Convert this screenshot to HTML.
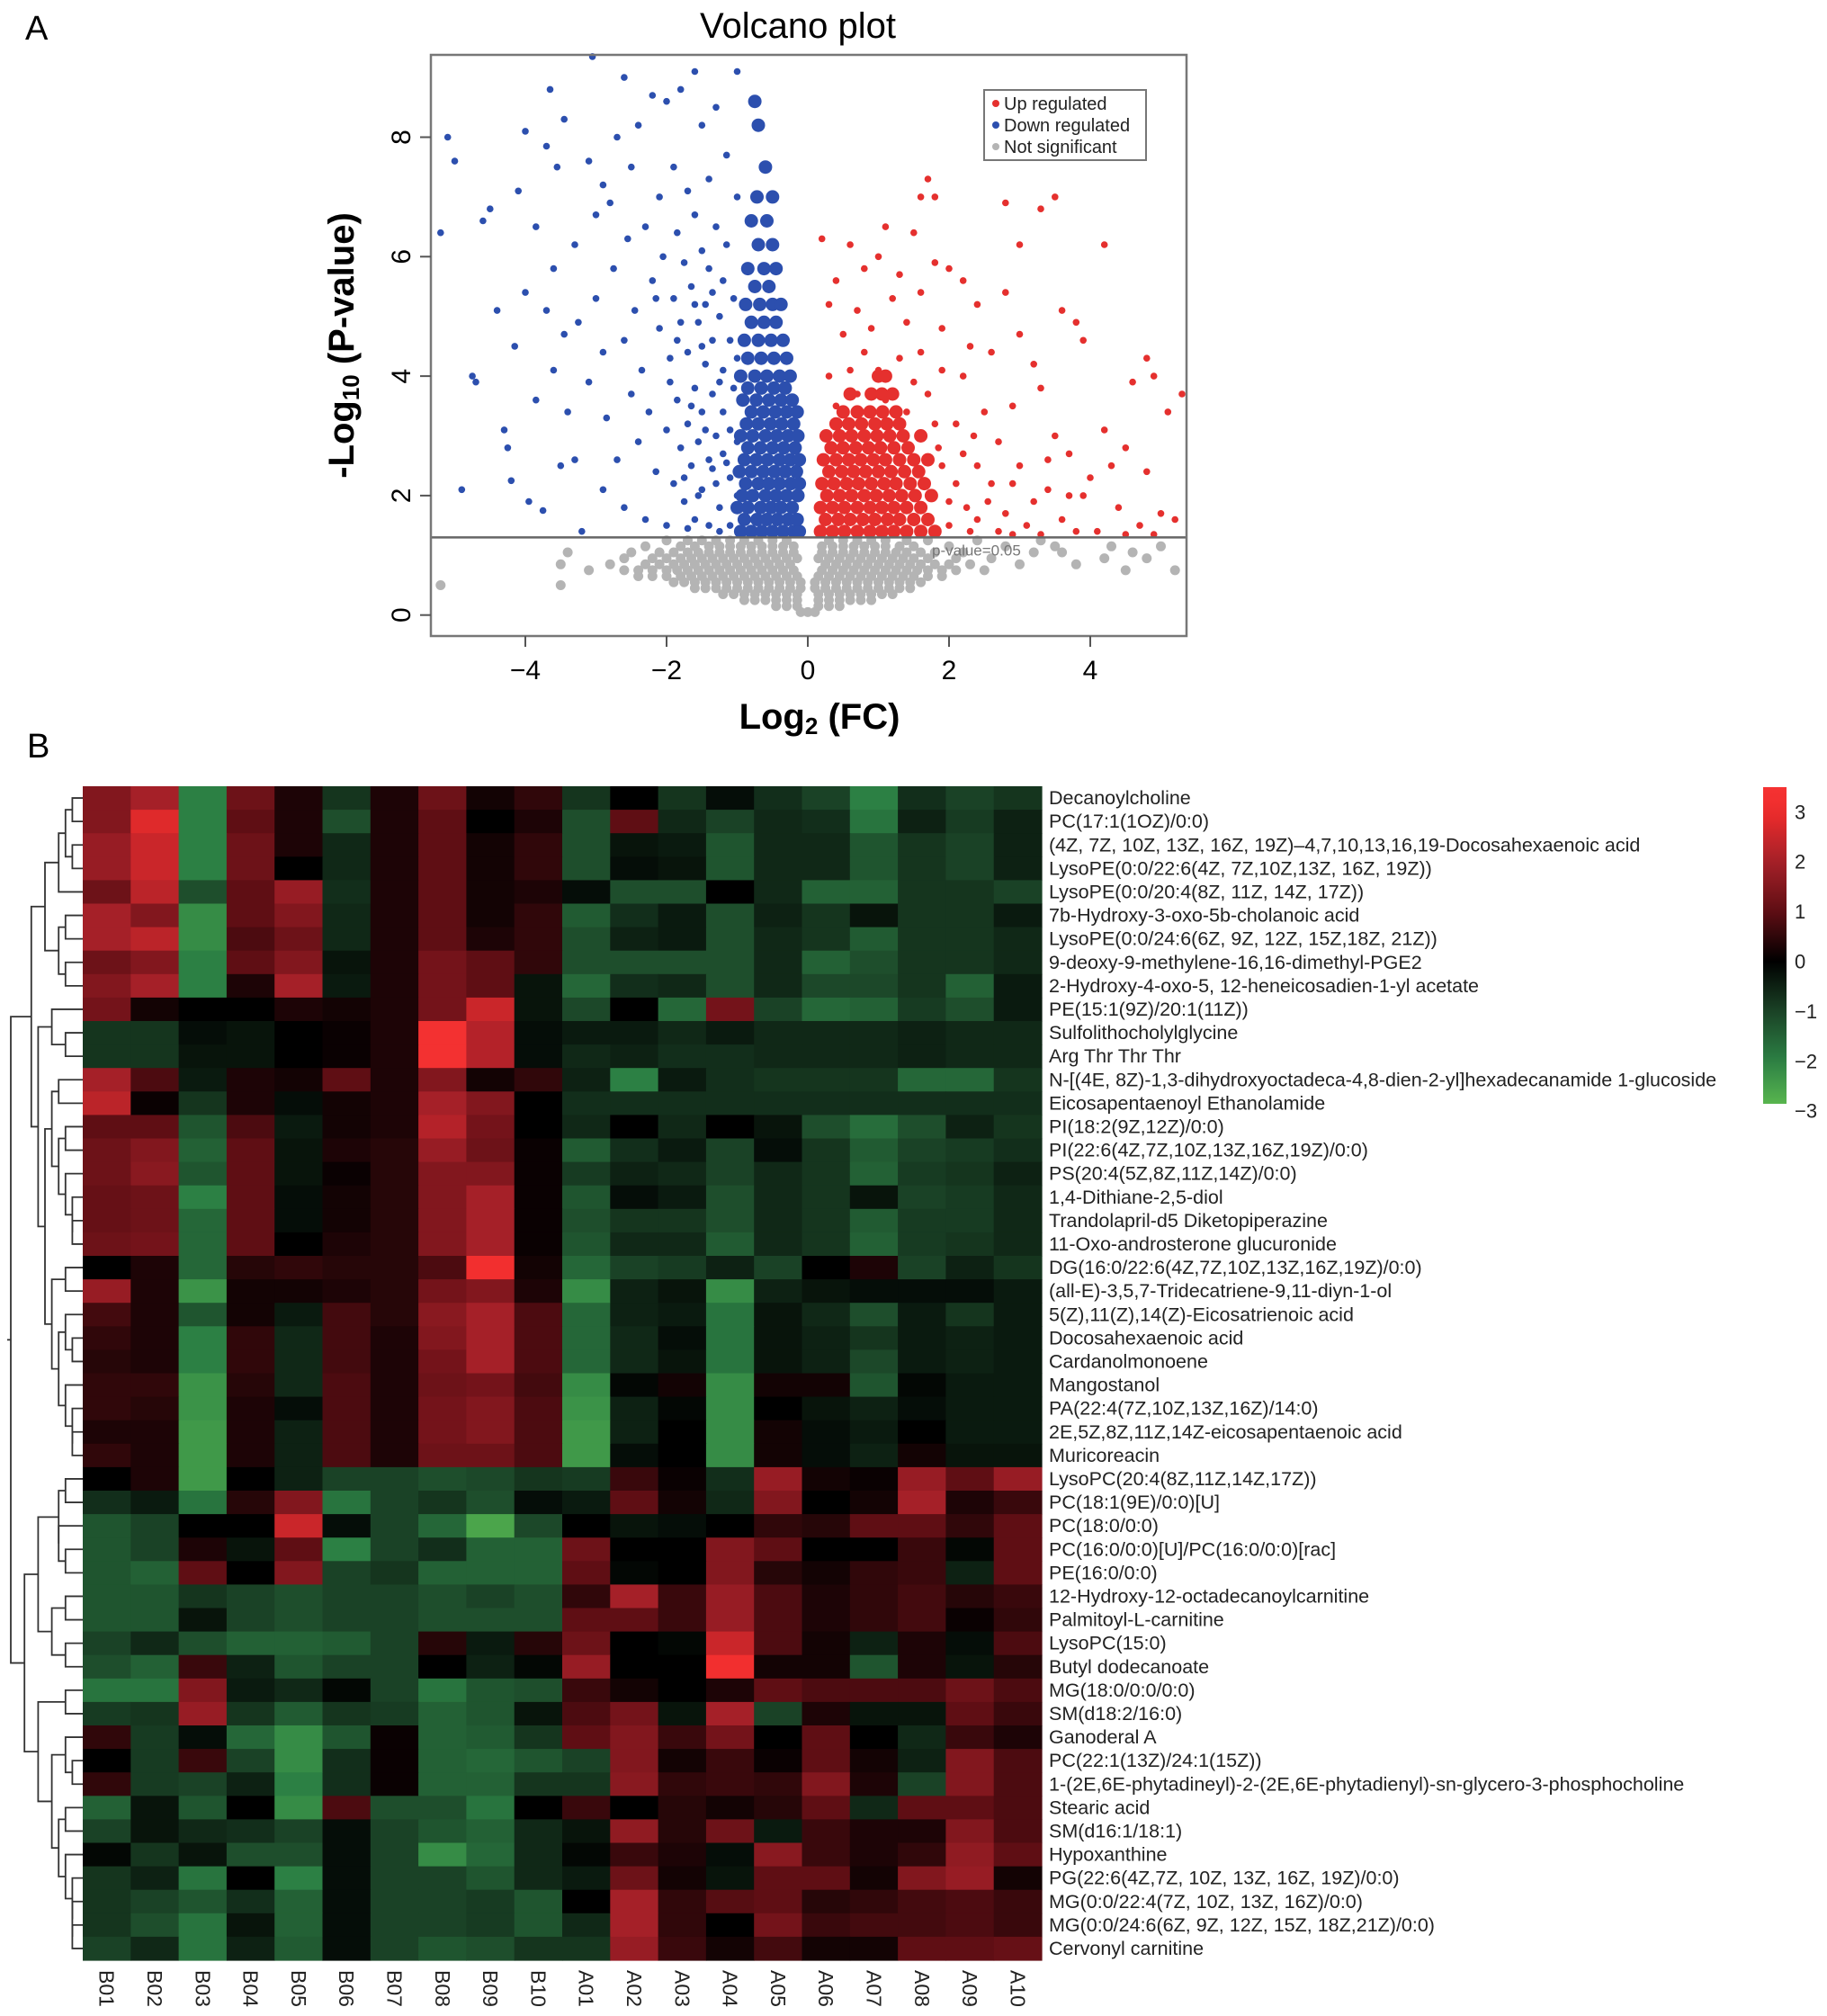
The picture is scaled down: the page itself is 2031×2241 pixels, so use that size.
<!DOCTYPE html>
<html><head><meta charset="utf-8"><style>
html,body{margin:0;padding:0;background:#fff}
svg{display:block;font-family:"Liberation Sans",sans-serif}
</style></head><body>
<svg id="fig" width="2031" height="2241" viewBox="0 0 2031 2241">
<text x="28" y="44" font-size="38">A</text>
<text x="30" y="842" font-size="38">B</text>
<g id="volcano"></g>
<g id="heat"></g>
</svg>
<script>
// ===== Volcano data =====
const xTicks=[-4,-2,0,2,4];
const yTicks=[0,2,4,6,8];
const pThreshold=1.3;
const downSparse=[[-5.2,6.4],[-5.1,8],[-5,7.6],[-4.9,2.1],[-4.75,4],[-4.7,3.9],[-4.6,6.6],[-4.5,6.8],[-4.4,5.1],[-4.3,3.1],[-4.25,2.8],[-4.2,2.25],[-4.15,4.5],[-4.1,7.1],[-4.0,5.4],[-4.0,8.1],[-3.95,1.9],[-3.85,3.6],[-3.85,6.5],[-3.75,1.75],[-3.7,5.1],[-3.7,7.85],[-3.65,8.8],[-3.6,4.1],[-3.6,5.8],[-3.5,2.5],[-3.55,7.5],[-3.45,4.7],[-3.4,3.4],[-3.45,8.3],[-3.3,2.6],[-3.3,6.2],[-3.25,4.9],[-3.2,1.4],[-3.1,7.6],[-3.1,3.9],[-3.05,9.35],[-3.0,6.7],[-3.0,5.3],[-2.9,2.1],[-2.9,4.4],[-2.9,7.2],[-2.85,3.3],[-2.8,6.9],[-2.75,5.8],[-2.7,8.0],[-2.7,2.6],[-2.6,9.0],[-2.6,4.6],[-2.6,1.8],[-2.55,6.3],[-2.5,3.7],[-2.5,7.5],[-2.45,5.1],[-2.4,2.9],[-2.4,8.2],[-2.35,4.1],[-2.3,6.5],[-2.3,1.6],[-2.25,3.4],[-2.2,5.6],[-2.2,8.7],[-2.15,2.4],[-2.1,4.8],[-2.1,7.0],[-2.05,6.0],[-2.0,3.1],[-2.0,1.5],[-2.0,8.6],[-1.95,4.3],[-1.9,5.3],[-1.9,2.2],[-1.9,7.5],[-1.85,3.6],[-1.85,6.4],[-1.8,8.8],[-1.8,2.8],[-1.8,4.9],[-1.75,5.9],[-1.75,1.9],[-1.7,3.2],[-1.7,7.1],[-1.7,4.4],[-1.65,2.5],[-1.65,5.5],[-1.6,9.1],[-1.6,6.7],[-1.6,3.8],[-1.6,1.6],[-1.55,4.9],[-1.55,2.9],[-1.5,6.1],[-1.5,8.2],[-1.5,3.4],[-1.5,2.1],[-1.45,5.2],[-1.45,4.2],[-1.4,7.3],[-1.4,2.6],[-1.4,5.8],[-1.4,1.5],[-1.35,3.7],[-1.35,4.6],[-1.3,6.5],[-1.3,3.0],[-1.3,2.2],[-1.3,8.5],[-1.25,5.0],[-1.25,1.8],[-1.2,4.1],[-1.2,5.6],[-1.2,3.4],[-1.2,2.7],[-1.15,7.7],[-1.15,6.2],[-1.1,4.6],[-1.1,1.5],[-1.1,3.1],[-1.1,2.3],[-1.05,5.3],[-1.05,3.8],[-1.0,9.1],[-1.0,7.0],[-1.0,2.0],[-1.0,4.3],[-1.0,2.9],[-1.75,2.3],[-1.55,2.0],[-1.35,2.45],[-1.45,3.1],[-1.65,3.5],[-1.25,3.9],[-1.5,4.5],[-1.85,4.6],[-1.35,5.4],[-1.6,5.2],[-1.95,3.9],[-2.15,5.3],[-1.15,2.55],[-1.25,1.4],[-1.7,1.45]];
const downCore=[[1.4,[-0.95,-0.8,-0.65,-0.5,-0.35,-0.2,-0.12]],[1.6,[-0.9,-0.72,-0.58,-0.43,-0.28,-0.15]],[1.8,[-1.0,-0.85,-0.67,-0.52,-0.38,-0.22]],[2.0,[-0.93,-0.78,-0.6,-0.45,-0.3,-0.14]],[2.2,[-0.88,-0.7,-0.55,-0.4,-0.24,-0.12]],[2.4,[-0.97,-0.8,-0.63,-0.47,-0.32,-0.16]],[2.6,[-0.9,-0.73,-0.57,-0.4,-0.25,-0.12]],[2.8,[-0.85,-0.67,-0.5,-0.34,-0.18]],[3.0,[-0.95,-0.78,-0.6,-0.44,-0.28,-0.14]],[3.2,[-0.87,-0.7,-0.53,-0.37,-0.2]],[3.4,[-0.8,-0.63,-0.46,-0.3,-0.15]],[3.6,[-0.92,-0.73,-0.55,-0.38,-0.22]],[3.8,[-0.85,-0.66,-0.48,-0.32]],[4.0,[-0.95,-0.75,-0.58,-0.4,-0.25]],[4.3,[-0.85,-0.66,-0.48,-0.3]],[4.6,[-0.9,-0.7,-0.52,-0.35]],[4.9,[-0.8,-0.62,-0.45]],[5.2,[-0.88,-0.68,-0.5,-0.38]],[5.5,[-0.75,-0.55]],[5.8,[-0.85,-0.62,-0.45]],[6.2,[-0.7,-0.5]],[6.6,[-0.8,-0.58]],[7.0,[-0.72,-0.5]],[7.5,[-0.6]],[8.2,[-0.7]],[8.6,[-0.75]]];
const upSparse=[[1.7,7.3],[1.6,7.0],[1.8,7.0],[3.5,7.0],[3.3,6.8],[1.1,6.5],[2.8,6.9],[4.2,6.2],[3.0,6.2],[0.2,6.3],[0.6,6.2],[1.0,6.0],[1.5,6.4],[0.4,5.6],[0.8,5.8],[1.3,5.7],[1.8,5.9],[2.0,5.8],[2.2,5.6],[2.8,5.4],[3.6,5.1],[0.3,5.2],[0.7,5.1],[1.2,5.3],[1.6,5.4],[2.4,5.2],[3.0,4.7],[3.8,4.9],[4.8,4.3],[4.9,4.0],[5.3,3.7],[5.1,3.4],[4.6,3.9],[0.5,4.7],[0.9,4.8],[1.4,4.9],[1.9,4.8],[2.3,4.5],[2.6,4.4],[3.2,4.2],[3.9,4.6],[4.2,3.1],[4.5,2.8],[4.8,2.4],[5.0,1.7],[5.2,1.6],[4.7,1.5],[4.4,1.8],[4.0,2.3],[3.7,2.7],[3.4,2.1],[3.6,1.6],[3.2,1.9],[3.0,2.5],[2.7,2.9],[2.9,3.5],[3.3,3.8],[2.5,3.4],[2.2,4.0],[3.5,3.0],[3.8,1.4],[4.1,1.4],[4.5,1.35],[4.9,1.35],[3.9,2.0],[3.1,1.5],[2.8,1.7],[2.6,2.2],[2.4,1.6],[2.2,2.7],[2.0,1.9],[2.1,3.2],[1.9,4.1],[1.7,3.7],[1.6,4.4],[1.5,3.9],[1.3,4.3],[1.0,4.1],[0.8,4.4],[0.6,4.1],[0.3,4.0],[0.4,3.5],[0.7,3.7],[1.1,3.6],[1.4,3.4],[1.8,3.2],[2.4,2.5],[2.3,1.4],[2.7,1.4],[3.3,1.35],[1.9,2.5],[2.1,2.2],[2.0,1.5],[1.85,2.8],[2.25,1.8],[2.55,1.9],[2.9,2.2],[3.4,2.6],[3.7,2.0],[4.3,2.5],[2.9,1.35],[2.35,3.0]];
const upCore=[[1.4,[0.18,0.35,0.52,0.7,0.88,1.05,1.22,1.4,1.6,1.8]],[1.6,[0.25,0.43,0.6,0.78,0.95,1.13,1.3,1.5,1.7]],[1.8,[0.18,0.35,0.52,0.7,0.88,1.05,1.22,1.4,1.6]],[2.0,[0.27,0.45,0.62,0.8,0.97,1.15,1.33,1.52,1.75]],[2.2,[0.2,0.37,0.55,0.72,0.9,1.08,1.25,1.45,1.65]],[2.4,[0.3,0.48,0.65,0.82,1.0,1.18,1.37,1.57]],[2.6,[0.22,0.4,0.58,0.75,0.93,1.1,1.3,1.5,1.7]],[2.8,[0.33,0.5,0.68,0.86,1.03,1.22,1.42]],[3.0,[0.26,0.45,0.62,0.8,0.98,1.16,1.35,1.6]],[3.2,[0.4,0.58,0.76,0.95,1.12,1.3]],[3.4,[0.5,0.7,0.88,1.06,1.25]],[3.7,[0.6,0.9,1.05,1.2]],[4.0,[1.0,1.1]]];
const nsRows=[[0.05,[-0.1,0,0.1]],[0.15,[-0.45,-0.3,-0.15,0.15,0.3,0.45]],[0.25,[-0.9,-0.75,-0.6,-0.45,-0.3,-0.15,0.15,0.3,0.45,0.6,0.75,0.9]],[0.35,[-1.2,-1.05,-0.9,-0.75,-0.6,-0.45,-0.3,-0.15,0.15,0.3,0.45,0.6,0.75,0.9,1.05,1.2]],[0.45,[-1.6,-1.45,-1.3,-1.15,-1.0,-0.85,-0.7,-0.55,-0.4,-0.25,-0.1,0.1,0.25,0.4,0.55,0.7,0.85,1.0,1.15,1.3,1.45]],[0.55,[-1.9,-1.75,-1.6,-1.45,-1.3,-1.15,-1.0,-0.85,-0.7,-0.55,-0.4,-0.25,-0.1,0.1,0.25,0.4,0.55,0.7,0.85,1.0,1.15,1.3,1.45,1.6]],[0.65,[-2.4,-2.2,-2.0,-1.8,-1.65,-1.5,-1.35,-1.2,-1.05,-0.9,-0.75,-0.6,-0.45,-0.3,-0.15,0.15,0.3,0.45,0.6,0.75,0.9,1.05,1.2,1.35,1.5,1.7,1.9]],[0.75,[-3.1,-2.6,-2.4,-2.2,-2.0,-1.85,-1.7,-1.55,-1.4,-1.25,-1.1,-0.95,-0.8,-0.65,-0.5,-0.35,-0.2,0.2,0.35,0.5,0.65,0.8,0.95,1.1,1.25,1.4,1.55,1.7,1.9,2.1,2.5,4.5,5.2]],[0.85,[-3.5,-2.8,-2.3,-2.1,-1.9,-1.75,-1.6,-1.45,-1.3,-1.15,-1.0,-0.85,-0.7,-0.55,-0.4,-0.25,0.25,0.4,0.55,0.7,0.85,1.0,1.15,1.3,1.45,1.6,1.8,2.0,2.3,3.0,3.8]],[0.95,[-2.6,-2.2,-2.0,-1.8,-1.65,-1.5,-1.35,-1.2,-1.05,-0.9,-0.75,-0.6,-0.45,-0.3,-0.15,0.15,0.3,0.45,0.6,0.75,0.9,1.05,1.2,1.35,1.5,1.7,2.1,2.6,4.2,4.8]],[1.05,[-3.4,-2.5,-2.1,-1.9,-1.7,-1.55,-1.4,-1.25,-1.1,-0.95,-0.8,-0.65,-0.5,-0.35,-0.2,0.2,0.35,0.5,0.65,0.8,0.95,1.1,1.25,1.4,1.6,1.8,2.2,3.2,3.6,4.6]],[1.15,[-2.3,-1.8,-1.6,-1.4,-1.25,-1.1,-0.95,-0.8,-0.65,-0.5,-0.35,-0.2,0.2,0.35,0.5,0.65,0.8,0.95,1.1,1.3,1.5,2.0,2.8,3.5,4.3,5.0]],[1.25,[-2.0,-1.7,-1.5,-1.3,-1.1,-0.9,-0.7,-0.5,-0.3,0.3,0.5,0.7,0.9,1.1,1.4,1.7,2.4,3.3]],[0.5,[-5.2,-3.5]]];

// ===== Heatmap data =====
const samples=["B01","B02","B03","B04","B05","B06","B07","B08","B09","B10","A01","A02","A03","A04","A05","A06","A07","A08","A09","A10"];
const metabolites=["Decanoylcholine","PC(17:1(1OZ)/0:0)","(4Z, 7Z, 10Z, 13Z, 16Z, 19Z)–4,7,10,13,16,19-Docosahexaenoic acid","LysoPE(0:0/22:6(4Z, 7Z,10Z,13Z, 16Z, 19Z))","LysoPE(0:0/20:4(8Z, 11Z, 14Z, 17Z))","7b-Hydroxy-3-oxo-5b-cholanoic acid","LysoPE(0:0/24:6(6Z, 9Z, 12Z, 15Z,18Z, 21Z))","9-deoxy-9-methylene-16,16-dimethyl-PGE2","2-Hydroxy-4-oxo-5, 12-heneicosadien-1-yl acetate","PE(15:1(9Z)/20:1(11Z))","Sulfolithocholylglycine","Arg Thr Thr Thr","N-[(4E, 8Z)-1,3-dihydroxyoctadeca-4,8-dien-2-yl]hexadecanamide 1-glucoside","Eicosapentaenoyl Ethanolamide","PI(18:2(9Z,12Z)/0:0)","PI(22:6(4Z,7Z,10Z,13Z,16Z,19Z)/0:0)","PS(20:4(5Z,8Z,11Z,14Z)/0:0)","1,4-Dithiane-2,5-diol","Trandolapril-d5 Diketopiperazine","11-Oxo-androsterone glucuronide","DG(16:0/22:6(4Z,7Z,10Z,13Z,16Z,19Z)/0:0)","(all-E)-3,5,7-Tridecatriene-9,11-diyn-1-ol","5(Z),11(Z),14(Z)-Eicosatrienoic acid","Docosahexaenoic acid","Cardanolmonoene","Mangostanol","PA(22:4(7Z,10Z,13Z,16Z)/14:0)","2E,5Z,8Z,11Z,14Z-eicosapentaenoic acid","Muricoreacin","LysoPC(20:4(8Z,11Z,14Z,17Z))","PC(18:1(9E)/0:0)[U]","PC(18:0/0:0)","PC(16:0/0:0)[U]/PC(16:0/0:0)[rac]","PE(16:0/0:0)","12-Hydroxy-12-octadecanoylcarnitine","Palmitoyl-L-carnitine","LysoPC(15:0)","Butyl dodecanoate","MG(18:0/0:0/0:0)","SM(d18:2/16:0)","Ganoderal A","PC(22:1(13Z)/24:1(15Z))","1-(2E,6E-phytadineyl)-2-(2E,6E-phytadienyl)-sn-glycero-3-phosphocholine","Stearic acid","SM(d16:1/18:1)","Hypoxanthine","PG(22:6(4Z,7Z, 10Z, 13Z, 16Z, 19Z)/0:0)","MG(0:0/22:4(7Z, 10Z, 13Z, 16Z)/0:0)","MG(0:0/24:6(6Z, 9Z, 12Z, 15Z, 18Z,21Z)/0:0)","Cervonyl carnitine"];
const zValues=[
[1.5,2,-2,1.2,0.3,-0.8,0.3,1.2,0.2,0.5,-0.8,0,-0.8,-0.2,-0.7,-1,-2,-0.7,-1,-0.8],
[1.5,2.8,-2,1,0.3,-1.2,0.3,1,0,0.3,-1.2,1,-0.6,-1,-0.6,-0.7,-1.8,-0.5,-0.9,-0.5],
[1.8,2.5,-2,1.2,0.3,-0.6,0.3,1,0.2,0.5,-1.2,-0.3,-0.4,-1.3,-0.6,-0.6,-1.3,-0.8,-1,-0.5],
[1.8,2.5,-2,1.2,0,-0.6,0.3,1,0.2,0.5,-1.2,-0.2,-0.3,-1.3,-0.6,-0.6,-1.3,-0.8,-1,-0.5],
[1.2,2.3,-1.2,1,1.8,-0.7,0.3,1,0.2,0.3,-0.2,-1.2,-1.2,0,-0.6,-1.5,-1.5,-0.8,-0.8,-1],
[2,1.5,-2.2,1,1.5,-0.6,0.3,1,0.2,0.5,-1.4,-0.7,-0.4,-1.2,-0.5,-0.8,-0.3,-0.8,-0.8,-0.4],
[2,2.3,-2.2,0.8,1.2,-0.6,0.3,1,0.3,0.5,-1.2,-0.5,-0.4,-1.2,-0.6,-0.8,-1.4,-0.8,-0.8,-0.6],
[1.2,1.5,-2,1,1.5,-0.3,0.3,1.3,1,0.5,-1.2,-1.2,-1.2,-1.2,-0.6,-1.5,-1.2,-0.8,-0.8,-0.6],
[1.5,2,-2,0.3,2,-0.4,0.3,1.3,1,-0.3,-1.6,-0.7,-0.6,-1.2,-0.6,-1.1,-1.1,-0.8,-1.5,-0.4],
[1.3,0.2,0,0,0.3,0.2,0.3,1.3,2.5,-0.3,-1.1,0,-1.6,1.3,-1,-1.6,-1.5,-0.9,-1.2,-0.4],
[-0.8,-0.8,-0.2,-0.3,0,0.1,0.3,3.3,2.2,-0.2,-0.4,-0.4,-0.6,-0.4,-0.6,-0.6,-0.6,-0.5,-0.6,-0.6],
[-0.8,-0.8,-0.3,-0.3,0,0.1,0.3,3.3,2.2,-0.2,-0.6,-0.5,-0.7,-0.7,-0.6,-0.6,-0.6,-0.5,-0.6,-0.6],
[2,0.8,-0.4,0.3,0.2,1,0.3,1.5,0.2,0.5,-0.5,-2,-0.4,-0.7,-0.8,-0.8,-0.8,-1.6,-1.6,-0.8],
[2.3,0.1,-0.8,0.3,-0.2,0.2,0.3,2,1.5,0,-0.7,-0.7,-0.7,-0.7,-0.7,-0.7,-0.7,-0.7,-0.7,-0.7],
[1,1,-1.3,0.8,-0.4,0.2,0.3,2.2,1.3,0,-0.6,0,-0.6,0,-0.3,-1.2,-1.7,-1.2,-0.5,-0.8],
[1.2,1.5,-1.5,1,-0.3,0.3,0.4,1.8,1.2,0.1,-1.4,-0.7,-0.4,-1,-0.2,-0.8,-1.4,-1,-0.9,-0.7],
[1.2,1.6,-1.3,1,-0.3,0.1,0.4,1.5,1.5,0.1,-0.9,-0.5,-0.6,-1,-0.6,-0.8,-1.5,-0.9,-0.8,-0.5],
[1.1,1.2,-2,1,-0.2,0.2,0.4,1.5,2,0.1,-1.3,-0.2,-0.4,-1.2,-0.6,-0.8,-0.3,-1,-0.9,-0.6],
[1.1,1.2,-1.6,1,-0.2,0.2,0.4,1.5,2,0.1,-1.2,-0.8,-0.8,-1.2,-0.6,-0.8,-1.4,-0.9,-0.9,-0.6],
[1.2,1.3,-1.6,1,0,0.3,0.4,1.5,2,0.1,-1.3,-0.6,-0.6,-1.4,-0.6,-0.8,-1.5,-0.9,-0.8,-0.6],
[0,0.3,-1.6,0.4,0.5,0.4,0.4,0.8,3.2,0.2,-1.6,-1,-0.9,-0.5,-1,0,0.3,-1,-0.5,-0.8],
[1.8,0.3,-2.3,0.2,0.2,0.3,0.4,1.3,1.5,0.3,-2.2,-0.5,-0.3,-2.2,-0.5,-0.3,-0.2,-0.2,-0.2,-0.4],
[0.7,0.3,-1.3,0.2,-0.4,0.7,0.4,1.6,2,0.8,-1.6,-0.5,-0.4,-1.8,-0.3,-0.6,-1.2,-0.4,-0.8,-0.4],
[0.5,0.3,-2,0.5,-0.6,0.7,0.3,1.5,2,0.8,-1.6,-0.6,-0.2,-1.8,-0.3,-0.5,-0.8,-0.4,-0.5,-0.4],
[0.4,0.3,-2,0.5,-0.6,0.7,0.3,1.3,2,0.8,-1.6,-0.6,-0.3,-1.8,-0.3,-0.5,-1.1,-0.4,-0.5,-0.4],
[0.5,0.5,-2.3,0.4,-0.6,0.8,0.3,1.2,1.3,0.7,-2.2,-0.1,0.2,-2.2,0.2,0.2,-1.3,-0.1,-0.4,-0.4],
[0.5,0.4,-2.3,0.3,-0.2,0.8,0.3,1.3,1.5,0.8,-2.3,-0.5,-0.1,-2.2,0,-0.3,-0.5,-0.2,-0.4,-0.4],
[0.3,0.3,-2.4,0.3,-0.5,0.8,0.3,1.3,1.5,0.8,-2.4,-0.5,0,-2.2,0.2,-0.2,-0.4,0,-0.4,-0.4],
[0.5,0.3,-2.4,0.3,-0.5,0.8,0.3,1.2,1.2,0.8,-2.4,-0.2,0,-2.2,0.2,-0.2,-0.5,0.2,-0.3,-0.3],
[0,0.3,-2.4,0,-0.5,-1,-1,-1.2,-1.1,-0.8,-0.9,0.6,0.1,-0.7,1.8,0.2,0.1,1.8,1,1.8],
[-0.7,-0.4,-1.8,0.4,1.5,-1.8,-1,-0.8,-1.2,-0.2,-0.4,1,0.2,-0.6,1.5,0,0.2,2,0.3,0.6],
[-1.3,-1,0,0,2.5,-0.2,-1,-1.6,-2.6,-1.1,0,-0.3,-0.2,0,0.5,0.4,1,1,0.5,1],
[-1.3,-1,0.3,-0.3,1,-2,-1,-0.7,-1.5,-1.5,1.2,0,0,1.5,1,0,0,0.6,-0.1,1],
[-1.3,-1.5,1,0,1.5,-1,-0.8,-1.5,-1.5,-1.5,1,-0.1,0,1.5,0.4,0.2,0.5,0.6,-0.5,1],
[-1.3,-1.3,-0.8,-1,-1.2,-1,-1,-1.2,-1,-1.2,0.5,2,0.6,1.8,0.8,0.3,0.5,0.7,0.4,0.6],
[-1.3,-1.3,-0.3,-1,-1.2,-1,-1,-1.2,-1.2,-1.2,1,1,0.6,1.8,0.8,0.3,0.5,0.7,0.1,0.5],
[-1,-0.6,-1.2,-1.5,-1.5,-1.4,-1,0.4,-0.4,0.4,1.2,0,-0.1,2.5,0.8,0.2,-0.5,0.3,-0.2,0.8],
[-1.2,-1.5,0.6,-0.5,-1.3,-1,-1,0,-0.5,-0.1,1.8,0,0,3.2,0.2,0.2,-1.3,0.3,-0.3,0.4],
[-1.8,-1.8,1.5,-0.4,-0.6,-0.1,-1,-1.8,-1.3,-1.2,0.6,0.2,0,0.3,1,0.8,0.8,0.8,1.2,0.8],
[-0.9,-0.8,1.8,-0.8,-1.4,-0.8,-0.9,-1.5,-1.3,-0.3,0.8,1.3,-0.3,2,-1,0.3,-0.3,-0.3,1,0.6],
[0.5,-0.9,-0.2,-1.6,-2.2,-1.3,0.1,-1.5,-1.4,-0.8,1,1.5,0.6,1.3,0,1,0,-0.6,0.6,0.3],
[0,-0.9,0.6,-1,-2.2,-0.7,0.1,-1.5,-1.6,-1.3,-1,1.5,0.2,0.6,0.1,1,0.2,-0.5,1.5,0.8],
[0.5,-0.9,-1,-0.5,-2,-0.7,0.1,-1.5,-1.5,-0.8,-0.8,1.6,0.5,0.6,0.5,1.5,0.3,-1,1.5,0.8],
[-1.5,-0.3,-1.3,0,-2.2,0.8,-1.2,-1.2,-1.8,0,0.6,0,0.4,0.2,0.4,1,-0.6,1,1,0.8],
[-1,-0.3,-0.6,-0.7,-1,-0.2,-1,-1.3,-1.5,-0.6,-0.3,1.7,0.4,1.2,-0.4,0.6,0.3,0.3,1.5,0.8],
[-0.1,-0.8,-0.3,-1.2,-1.2,-0.2,-1,-2.2,-1.6,-0.6,-0.1,0.6,0.3,-0.2,1.6,0.6,0.3,0.5,1.7,1],
[-0.8,-0.5,-1.8,0,-2,-0.2,-1,-1,-1.3,-0.6,-0.4,1.2,0.2,-0.3,1,1,0.2,1.5,1.8,0.2],
[-0.8,-1,-1.3,-0.7,-1.5,-0.2,-1,-1,-0.9,-1.3,0,2,0.5,0.9,1,0.4,0.5,0.7,0.8,0.6],
[-0.8,-1.2,-1.8,-0.3,-1.5,-0.2,-1,-1,-0.9,-1.3,-0.6,2,0.5,0,1.3,0.6,0.7,0.7,0.8,0.6],
[-1,-0.6,-1.8,-0.5,-1.4,-0.2,-1,-1.3,-1.2,-0.8,-0.8,1.8,0.6,0.2,0.7,0.2,0.2,1,1,1.1]];
const legendTicks=[3,2,1,0,-1,-2,-3];
const rowTree=[10,[7,[5,[3,[2,[1,0,1],[1,2,3]],4],[3,[2,5,6],[2,7,8]]],[6,[4,9,[2,10,11]],[5,[4,[3,12,13],[3,[2,14,15],[2,16,[1,17,[1,18,19]]]]],[4,[2,20,21],[3,[2,22,[1,23,24]],[2,25,[1,26,[1,27,28]]]]]]]],[8,[6,[3,[2,29,30],[3,31,[2,32,33]]],[4,[2,34,35],[2,36,37]]],[6,[2,38,39],[4,[2,40,[1,41,42]],[3,[2,43,44],[2,45,[1,46,[1,47,[1,48,49]]]]]]]]];

const NS="http://www.w3.org/2000/svg";
function mk(tag,attrs,parent,txt){const e=document.createElementNS(NS,tag);for(const k in attrs)e.setAttribute(k,attrs[k]);if(txt!==undefined)e.textContent=txt;parent.appendChild(e);return e;}

// ===== Volcano =====
const V=document.getElementById('volcano');
const box={l:479,r:1319,t:61,b:707};
const xS=v=>898+v*78.5, yS=v=>683.7-v*66.4;
let t=mk('text',{x:887,y:42,'font-size':40,'text-anchor':'middle'},V,'Volcano plot');


const pts=mk('g',{},V);


function dot(x,y,r,c,name){const d=mk('circle',{cx:xS(x).toFixed(1),cy:yS(y).toFixed(1),r:r,fill:c},pts);

}
nsRows.forEach(([y,xs])=>xs.forEach(x=>dot(x,y,5.5,'#b4b4b4','not-significant-point')));
downCore.forEach(([y,xs])=>xs.forEach(x=>dot(x,y,7.5,'#2c4fae','down-regulated-point')));
downSparse.forEach(([x,y])=>dot(x,y,3.8,'#2c4fae','down-regulated-point'));
upCore.forEach(([y,xs])=>xs.forEach(x=>dot(x,y,7.5,'#e5302e','up-regulated-point')));
upSparse.forEach(([x,y])=>dot(x,y,3.8,'#e5302e','up-regulated-point'));
let th=mk('line',{x1:box.l,x2:box.r,y1:yS(pThreshold),y2:yS(pThreshold),stroke:'#666',"stroke-width":2.5},V);


t=mk('text',{x:1036,y:yS(pThreshold)+20,'font-size':17,fill:'#777'},V,'p-value=0.05');


let fr=mk('rect',{x:box.l,y:box.t,width:box.r-box.l,height:box.b-box.t,fill:'none',stroke:'#777','stroke-width':2.5},V);


xTicks.forEach(v=>{mk('line',{x1:xS(v),x2:xS(v),y1:box.b,y2:box.b+12,stroke:'#555','stroke-width':2},V);
const tx=mk('text',{x:xS(v),y:box.b+48,'font-size':30,'text-anchor':'middle'},V,v<0?'\u2212'+(-v):String(v));

});
yTicks.forEach(v=>{mk('line',{x1:box.l-12,x2:box.l,y1:yS(v),y2:yS(v),stroke:'#555','stroke-width':2},V);
const tx=mk('text',{x:456,y:yS(v),'font-size':30,'text-anchor':'middle',transform:`rotate(-90 456 ${yS(v)})`},V,String(v));

});
t=mk('text',{x:911,y:810,'font-size':40,'font-weight':'bold','text-anchor':'middle'},V);
t.innerHTML='Log<tspan font-size="26" dy="6">2</tspan><tspan dy="-6"> (FC)</tspan>';


t=mk('text',{x:393,y:384,'font-size':40,'font-weight':'bold','text-anchor':'middle',transform:'rotate(-90 393 384)'},V);
t.innerHTML='-Log<tspan font-size="26" dy="6">10</tspan><tspan dy="-6"> (P-value)</tspan>';


const lg=mk('g',{},V);


mk('rect',{x:1094,y:100,width:180,height:78,fill:'#fff',stroke:'#777','stroke-width':2},lg);
[['Up regulated','#e5302e'],['Down regulated','#2c4fae'],['Not significant','#b4b4b4']].forEach((e,i)=>{
const g=mk('g',{},lg);


mk('circle',{cx:1107,cy:115+i*24,r:4,fill:e[1]},g);
mk('text',{x:1116,y:122+i*24,'font-size':20,fill:'#222'},g,e[0]);});

// ===== Heatmap =====
const H=document.getElementById('heat');
const hm={l:92,t:874,cw:53.3,ch:26.1};
const cx=j=>hm.l+j*hm.cw, cy=i=>hm.t+i*hm.ch;
function color(v){v=Math.max(-3.4,Math.min(3.4,v));
const pos=[[0,[0,0,0]],[1,[95,14,20]],[2,[165,32,40]],[3,[238,44,44]],[3.4,[245,50,50]]];
const neg=[[0,[0,0,0]],[1,[26,66,38]],[2,[44,128,68]],[3,[95,190,80]],[3.4,[110,200,85]]];
const st=v>=0?pos:neg,a=Math.abs(v);
for(let k=1;k<st.length;k++){if(a<=st[k][0]){const p0=st[k-1][0],c0=st[k-1][1],p1=st[k][0],c1=st[k][1];const f=(a-p0)/(p1-p0);return 'rgb('+c0.map((c,i)=>Math.round(c+(c1[i]-c)*f)).join(',')+')';}}
return 'rgb(245,50,50)';}
const cells=mk('g',{},H);


zValues.forEach((row,i)=>row.forEach((v,j)=>{const r=mk('rect',{x:cx(j).toFixed(2),y:cy(i).toFixed(2),width:hm.cw+0.6,height:hm.ch+0.6,fill:color(v)},cells);

}));
metabolites.forEach((m,i)=>{const tx=mk('text',{x:1166,y:cy(i)+hm.ch/2+7,'font-size':21.5,fill:'#222'},H,m);

});
samples.forEach((s,j)=>{const x=cx(j)+hm.cw/2-8,y=2190;const tx=mk('text',{x:x,y:y,'font-size':23,fill:'#222',transform:`rotate(90 ${x} ${y})`},H,s);

});
// dendrogram
const dg=mk('g',{stroke:'#333','stroke-width':1.8,fill:'none'},H);


const hx=h=>hm.l-4-h*7.6;
function draw(n){if(typeof n==='number')return{y:cy(n)+hm.ch/2,x:hm.l};
const a=draw(n[1]),b=draw(n[2]),x=hx(n[0]);
mk('path',{d:`M${a.x},${a.y}H${x}V${b.y}H${b.x}`},dg);return{y:(a.y+b.y)/2,x:x};}
const treeRoot=draw(rowTree);mk('path',{d:`M${treeRoot.x},${treeRoot.y}H${treeRoot.x-4}`},dg);
// colorbar
const cb=mk('g',{},H);


const cbY=v=>1068.5-v*55.4;
const defs=mk('defs',{},H);const gr=mk('linearGradient',{id:'cbg',x1:0,y1:0,x2:0,y2:1},defs);
const cbTop=875,cbBot=1227;
for(let k=0;k<=20;k++){const yy=cbTop+(cbBot-cbTop)*k/20;const v=(1068.5-yy)/55.4;mk('stop',{offset:(k/20),'stop-color':color(v)},gr);}
mk('rect',{x:1960,y:cbTop,width:26,height:cbBot-cbTop,fill:'url(#cbg)'},cb);
legendTicks.forEach(v=>{const tx=mk('text',{x:1995,y:cbY(v)+8,'font-size':22,fill:'#222'},cb,v<0?'\u2212'+(-v):String(v));

});
</script>
</body></html>
